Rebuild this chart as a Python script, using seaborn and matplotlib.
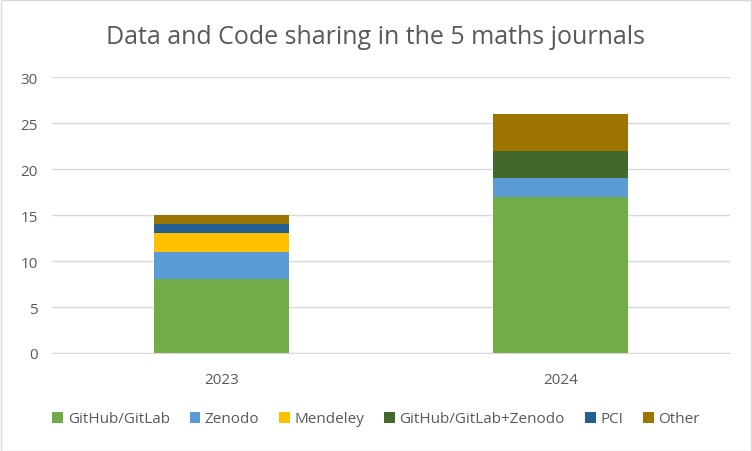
import numpy as np
import pandas as pd
import matplotlib
matplotlib.use("Agg")
import matplotlib.pyplot as plt
import seaborn as sns

years = ["2023", "2024"]
series_names = ["GitHub/GitLab", "Zenodo", "Mendeley", "GitHub/GitLab+Zenodo", "PCI", "Other"]
github = [8, 17]
zenodo = [3, 2]
mendeley = [2, 0]
github_zenodo = [0, 3]
pci = [1, 0]
other = [1, 4]
colors = ["#70AD47", "#5B9BD5", "#FFC000", "#43682B", "#255E91", "#9E7400"]

sns.set_style("white")
plt.rcParams["font.family"] = ["Open Sans", "DejaVu Sans"]

fig = plt.figure(figsize=(7.52, 4.52), dpi=100)
ax = fig.add_axes([52 / 752, 1 - 354 / 452, 678 / 752, 276 / 452])

bottom = np.zeros(len(years))
for name, vals, c in zip(series_names, [github, zenodo, mendeley, github_zenodo, pci, other], colors):
    sns.barplot(x=years, y=vals, bottom=bottom, color=c, label=name, width=0.4,
                saturation=1, ax=ax, linewidth=0)
    bottom = bottom + np.array(vals)

ax.set_ylim(0, 30)
ax.set_yticks(range(0, 31, 5))
ax.yaxis.grid(True, color="#D9D9D9", linewidth=1)
ax.set_axisbelow(True)
for s in ["top", "right", "left"]:
    ax.spines[s].set_visible(False)
ax.spines["bottom"].set_color("#D9D9D9")
ax.tick_params(axis="both", length=0, labelsize=11, labelcolor="#595959")
ax.tick_params(axis="x", pad=14)
ax.tick_params(axis="y", pad=10)
ax.set_xlabel("")
ax.set_ylabel("")

fig.suptitle("Data and Code sharing in the 5 maths journals", y=1 - 38 / 452, va="center",
             fontsize=18, color="#595959")

ax.legend(loc="center", bbox_to_anchor=(0.5, 1 - 420 / 452), bbox_transform=fig.transFigure,
          ncol=6, frameon=False, fontsize=11, labelcolor="#595959", handlelength=0.7,
          handleheight=0.7, handletextpad=0.3, columnspacing=1.3)

fig.patches.append(plt.Rectangle((0.001, 0.001), 0.998, 0.997, transform=fig.transFigure,
                                 fill=False, edgecolor="#D9D9D9", linewidth=1))

fig.savefig("out.png", dpi=100)
